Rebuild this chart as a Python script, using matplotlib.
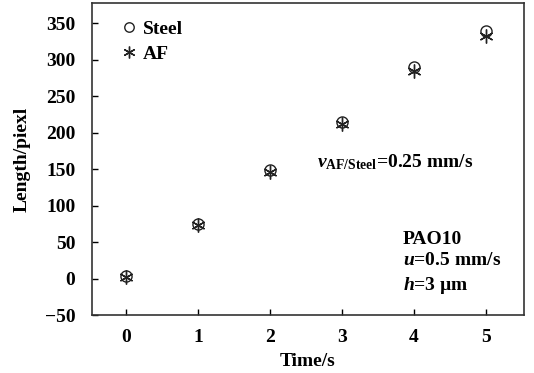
import matplotlib
matplotlib.use("Agg")
import matplotlib.pyplot as plt

plt.rcParams['font.family'] = ['Liberation Serif', 'DejaVu Serif']
plt.rcParams['font.weight'] = 'bold'
plt.rcParams['mathtext.fontset'] = 'custom'
plt.rcParams['mathtext.rm'] = 'Liberation Serif:bold'
plt.rcParams['mathtext.it'] = 'Liberation Serif:italic:bold'
plt.rcParams['mathtext.bf'] = 'Liberation Serif:bold'

# measured lengths
time_s = [0, 1, 2, 3, 4, 5]
steel = [3, 75, 149, 215, 290, 340]
af = [2, 73, 146, 212, 285, 333]

fig = plt.figure(figsize=(5.34, 3.73), dpi=100)
ax = fig.add_axes([92 / 534, 1 - 315 / 373, 432 / 534, 312 / 373])

ax.plot(time_s, steel, linestyle='none', marker='o', markersize=8,
        markerfacecolor='none', markeredgecolor='#222222', markeredgewidth=1.0,
        label='Steel')
ax.plot(time_s, af, linestyle='none', marker=(6, 2, 0), markersize=10,
        color='#222222', markeredgewidth=1.0, label='AF')

ax.set_xlim(-0.47, 5.53)
ax.set_ylim(-50, 378)
ax.set_xticks(time_s)
ax.set_yticks(range(-50, 351, 50))
ax.set_yticklabels(['\u221250'] + [str(v) for v in range(0, 351, 50)])
ax.tick_params(direction='in', length=4, width=1, labelsize=14)
ax.tick_params(axis='y', pad=12)
ax.tick_params(axis='x', pad=10)
for s in ax.spines.values():
    s.set_linewidth(1.2)
    s.set_color('#333333')

ax.set_xlabel('Time/s', fontsize=14, fontweight='bold', labelpad=5)
ax.set_ylabel('Length/piexl', fontsize=14, fontweight='bold', labelpad=10)

ax.legend(loc='upper left', frameon=False, fontsize=14, handletextpad=0.2,
          handlelength=1.0, borderaxespad=0.0, labelspacing=0.4,
          bbox_to_anchor=(0.045, 0.97), markerscale=0.85)

ax.text(2.65, 159, r'$v_{\mathrm{AF/Steel}}$=0.25 mm/s', fontsize=14,
        va='center', ha='left')
ax.text(3.85, 21, 'PAO10\n$u$=0.5 mm/s\n$h$=3 \u00b5m', fontsize=14,
        va='center', ha='left', linespacing=1.35)

fig.savefig('out.png', dpi=100)
